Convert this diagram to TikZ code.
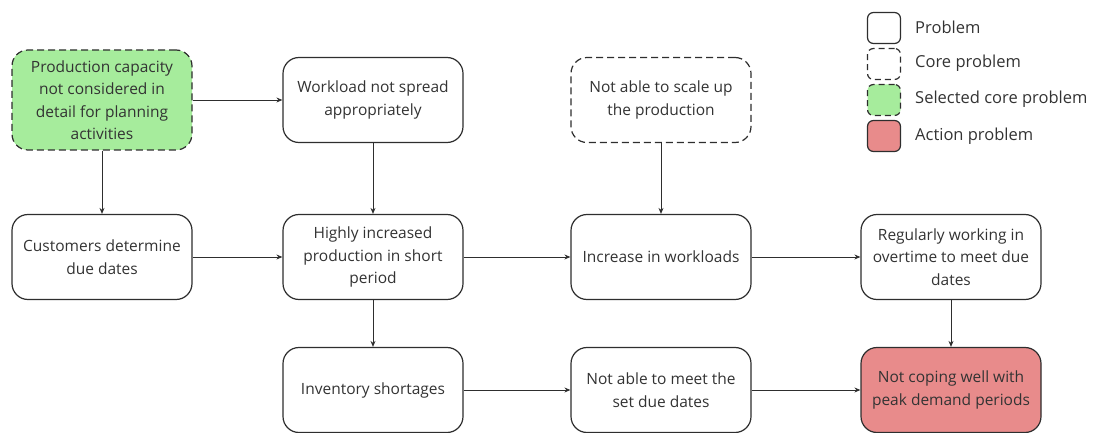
\documentclass[tikz,border=0pt]{standalone}
\usepackage{fontspec}
\setmainfont{Open Sans}
\usepackage{xcolor}
\usetikzlibrary{arrows.meta, positioning}

\definecolor{edgegray}{HTML}{2E2E2E}
\definecolor{textgray}{HTML}{333333}
\definecolor{corefill}{HTML}{A6EC9C}
\definecolor{actionfill}{HTML}{E88B8B}

\tikzset{
	problem/.style={draw=edgegray, line width=1.2pt, rounded corners=16pt, fill=white,
		minimum width=180pt, minimum height=85pt, align=center, text=textgray,
		font=\fontsize{15.5}{22.5}\selectfont, inner sep=2pt},
	core/.style={problem, dash pattern=on 7pt off 4pt},
	selcore/.style={core, fill=corefill, minimum height=100pt},
	action/.style={problem, fill=actionfill},
	legbox/.style={draw=edgegray, line width=1.2pt, rounded corners=6pt, fill=white,
		minimum width=33pt, minimum height=31pt, inner sep=0pt},
	legtext/.style={anchor=west, text=textgray, font=\fontsize{16.5}{19}\selectfont, inner sep=0pt},
	link/.style={draw=edgegray, line width=0.9pt, -{Stealth[length=6pt,width=5pt]}}
}

\begin{document}
\begin{tikzpicture}[x=1pt, y=-1pt]
	\useasboundingbox (0,0) rectangle (1093,433);
	
	% top row
	\node[selcore] (capacity) at (102,100) {Production capacity\\not considered in\\detail for planning\\activities};
	\node[problem] (spread) at (373,100) {Workload not spread\\appropriately};
	\node[core] (scale) at (661,100) {Not able to scale up\\the production};
	
	% middle row
	\node[problem] (customers) at (102,257) {Customers determine\\due dates};
	\node[problem] (highly) at (373,257) {Highly increased\\production in short\\period};
	\node[problem] (increase) at (661,257) {Increase in workloads};
	\node[problem] (overtime) at (951,257) {Regularly working in\\overtime to meet due\\dates};
	
	% bottom row
	\node[problem] (inventory) at (373,390) {Inventory shortages};
	\node[problem] (duedates) at (661,390) {Not able to meet the\\set due dates};
	\node[action] (coping) at (951,390) {Not coping well with\\peak demand periods};
	
	% legend
	\node[legbox] (legprob) at (884,28) {};
	\node[legbox, dash pattern=on 6pt off 4pt] (legcore) at (884,64) {};
	\node[legbox, dash pattern=on 6pt off 4pt, fill=corefill] (legsel) at (884,100) {};
	\node[legbox, fill=actionfill] (legact) at (884,136) {};
	\node[legtext] at (915,27) {Problem};
	\node[legtext] at (915,63) {Core problem};
	\node[legtext] at (915,99) {Selected core problem};
	\node[legtext] at (915,136) {Action problem};
	
	% connectors
	\draw[link] (capacity) -- (spread);
	\draw[link] (capacity) -- (customers);
	\draw[link] (spread) -- (highly);
	\draw[link] (customers) -- (highly);
	\draw[link] (highly) -- (increase);
	\draw[link] (highly) -- (inventory);
	\draw[link] (scale) -- (increase);
	\draw[link] (increase) -- (overtime);
	\draw[link] (overtime) -- (coping);
	\draw[link] (inventory) -- (duedates);
	\draw[link] (duedates) -- (coping);
\end{tikzpicture}
\end{document}
